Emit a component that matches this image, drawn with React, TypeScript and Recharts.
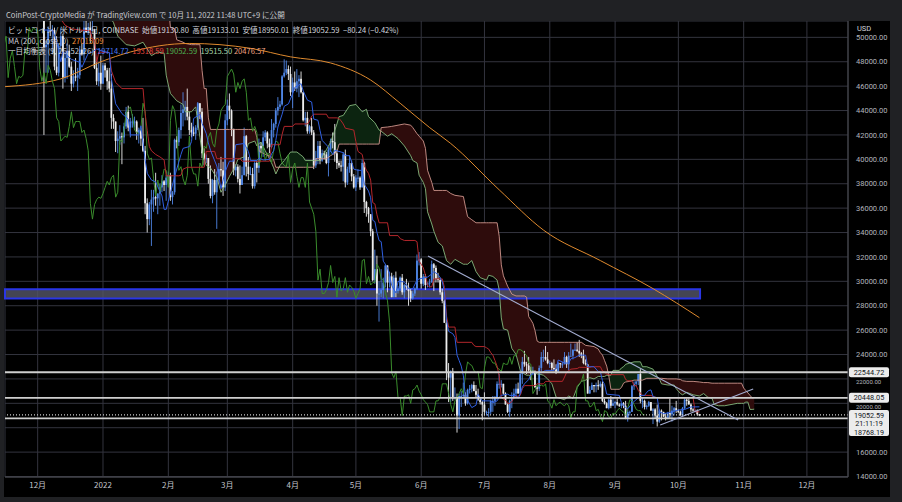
import {
  Area,
  Bar,
  CartesianGrid,
  ComposedChart,
  Line,
  ReferenceArea,
  ReferenceLine,
  XAxis,
  YAxis,
} from 'recharts'

// day index = days since 2021-11-01, prices in thousand USD (BTC/USD daily, Coinbase)
const FIRST_DAY = 33 // 2021-12-04
const FIRST_OPEN = 53.7

const closes = [
  // Dec
  49.2, 49.4, 50.6, 50.5, 50.6, 47.6, 47.1, 49.3, 50.1, 46.7, 48.3, 48.9, 47.6, 46.2, 46.8, 46.7, 46.9, 49.0, 48.6, 50.8, 50.4, 50.8, 50.6, 50.6, 47.5, 46.4, 47.1, 46.2,
  // Jan
  47.7, 47.3, 46.4, 45.8, 43.4, 43.1, 41.5, 41.7, 41.9, 41.8, 42.7, 43.9, 42.6, 43.1, 43.1, 43.1, 42.2, 42.4, 41.7, 40.7, 36.4, 35.1, 36.3, 36.7, 36.9, 36.8, 37.2, 37.7, 38.2, 37.9, 38.5,
  // Feb
  38.7, 36.9, 37.3, 41.6, 41.4, 42.4, 43.8, 44.1, 44.3, 43.5, 42.4, 42.2, 42.1, 42.6, 44.6, 43.9, 40.5, 40.0, 40.1, 38.4, 37.0, 38.3, 37.3, 38.3, 39.2, 39.1, 37.7, 43.2,
  // Mar
  44.4, 44.0, 42.5, 39.1, 39.4, 38.4, 37.9, 38.7, 41.9, 39.4, 38.8, 38.8, 37.8, 39.7, 39.3, 41.1, 40.9, 41.8, 42.2, 41.3, 41.0, 42.4, 42.9, 44.0, 44.3, 44.5, 46.8, 47.1, 47.4, 47.0, 45.5,
  // Apr
  46.3, 45.8, 46.4, 46.6, 45.5, 43.2, 43.4, 42.3, 42.7, 42.2, 39.5, 40.1, 41.1, 39.9, 40.5, 40.4, 39.7, 40.8, 41.5, 41.4, 40.5, 39.7, 39.5, 39.4, 40.4, 38.1, 39.2, 39.7, 38.6, 37.7,
  // May
  38.5, 38.5, 37.7, 39.7, 36.5, 36.0, 35.5, 34.1, 30.1, 31.0, 29.0, 29.0, 29.3, 29.9, 31.3, 29.9, 30.4, 28.7, 30.3, 29.2, 29.4, 30.3, 29.1, 29.7, 29.5, 29.2, 28.6, 29.0, 29.4, 31.7, 31.8,
  // Jun
  29.8, 30.4, 29.7, 29.9, 29.9, 31.4, 31.1, 30.2, 30.1, 29.1, 28.4, 26.6, 22.5, 22.1, 22.6, 20.4, 20.5, 19.0, 20.6, 20.6, 20.7, 20.0, 21.1, 21.2, 21.5, 21.0, 20.7, 20.3, 20.1, 19.9,
  // Jul
  19.3, 19.3, 19.3, 20.2, 20.2, 20.5, 21.6, 21.6, 21.6, 20.8, 19.9, 19.3, 20.2, 20.5, 20.8, 21.2, 20.8, 22.4, 23.4, 23.2, 23.1, 22.7, 22.5, 22.6, 21.3, 21.2, 22.9, 23.8, 23.8, 23.6, 23.3,
  // Aug
  23.3, 22.9, 22.8, 22.6, 23.3, 23.2, 23.2, 23.8, 23.2, 23.9, 23.9, 24.4, 24.4, 24.3, 24.1, 23.9, 23.3, 23.2, 20.8, 21.1, 21.5, 21.4, 21.5, 21.4, 21.6, 20.2, 20.0, 19.6, 20.3, 19.8, 20.0,
  // Sep
  20.1, 19.9, 19.8, 20.0, 19.8, 18.8, 19.3, 19.3, 21.4, 21.6, 21.8, 22.4, 20.2, 20.2, 19.7, 19.8, 20.1, 19.4, 19.5, 19.0, 18.5, 19.4, 19.3, 18.9, 18.8, 19.2, 19.1, 19.4, 19.6, 19.4,
  // Oct
  19.3, 19.0, 19.6, 20.3, 20.2, 19.9, 19.5, 19.4, 19.4, 19.1, 19.05,
]

const highs = [
  53.9, 49.7, 50.9, 51.9, 51.0, 50.8, 50.1, 49.5, 50.8, 50.3, 48.7, 49.5, 49.4, 48.0, 47.3, 48.3, 47.5, 49.3, 49.5, 51.4, 51.8, 51.2, 51.3, 52.0, 50.7, 48.1, 47.9, 48.5,
  47.9, 47.9, 47.5, 47.5, 47.0, 43.7, 43.1, 42.3, 42.8, 42.2, 43.0, 44.3, 44.4, 43.4, 43.7, 43.5, 43.2, 42.6, 42.6, 43.4, 41.1, 36.8, 36.5, 37.5, 37.5, 38.9, 37.2, 38.0, 38.7, 38.3, 38.7,
  39.0, 38.9, 37.4, 41.7, 41.9, 42.6, 44.5, 45.5, 44.8, 45.8, 43.9, 43.0, 42.7, 42.8, 44.7, 44.6, 44.2, 40.9, 40.4, 40.1, 39.5, 38.4, 39.2, 39.0, 39.7, 40.2, 39.8, 43.7,
  44.9, 45.4, 44.1, 42.5, 39.6, 39.6, 39.5, 39.4, 42.6, 42.0, 40.2, 39.4, 39.3, 39.9, 39.9, 41.7, 41.4, 42.3, 42.4, 42.3, 41.7, 43.3, 43.0, 44.2, 45.1, 44.8, 46.9, 48.2, 48.1, 47.7, 47.6,
  46.7, 47.2, 47.4, 46.9, 47.2, 45.5, 43.9, 43.9, 42.8, 43.4, 42.4, 40.7, 41.5, 41.5, 40.8, 40.7, 40.6, 41.0, 41.7, 42.2, 42.9, 40.8, 39.9, 39.9, 40.6, 40.8, 39.4, 40.3, 39.9, 38.8,
  38.7, 39.2, 38.6, 40.0, 39.8, 36.6, 36.1, 35.5, 34.3, 32.6, 32.1, 30.0, 31.0, 30.3, 31.4, 31.3, 30.8, 30.7, 30.5, 30.8, 29.6, 30.4, 30.6, 29.8, 30.2, 29.9, 29.4, 29.2, 29.5, 32.2, 32.4,
  31.9, 30.6, 30.6, 29.9, 30.2, 31.7, 31.5, 31.3, 30.7, 30.3, 29.4, 28.5, 26.9, 23.3, 22.7, 22.9, 21.3, 20.8, 20.8, 21.0, 21.7, 20.9, 21.2, 21.5, 21.6, 21.8, 21.5, 21.2, 20.4, 20.2,
  20.9, 19.4, 19.6, 20.3, 20.6, 20.6, 21.8, 22.4, 21.9, 21.6, 20.9, 20.0, 20.3, 20.9, 21.2, 21.6, 21.7, 22.7, 23.8, 24.3, 23.4, 23.8, 23.0, 23.0, 22.7, 21.4, 23.1, 24.2, 24.4, 24.7, 24.2,
  23.5, 23.4, 23.6, 23.2, 23.4, 23.3, 23.4, 24.2, 23.9, 24.2, 24.9, 24.4, 24.9, 25.0, 25.2, 24.2, 24.4, 23.6, 23.2, 21.4, 21.7, 21.5, 21.7, 21.9, 21.8, 21.8, 20.4, 20.1, 20.4, 20.6, 20.5,
  20.2, 20.4, 20.0, 20.0, 20.1, 20.2, 19.5, 19.4, 21.5, 21.8, 21.8, 22.4, 22.8, 20.5, 20.3, 19.9, 20.2, 20.1, 19.6, 19.6, 19.9, 19.5, 19.5, 19.3, 19.2, 19.3, 20.4, 19.8, 19.7, 20.2,
  19.5, 19.4, 19.7, 20.5, 20.4, 20.4, 20.0, 19.6, 19.5, 19.5, 19.13,
]

const lows = [
  42.0, 47.1, 47.1, 50.1, 48.6, 47.3, 46.9, 46.8, 48.7, 45.8, 46.3, 46.6, 47.5, 45.6, 45.9, 46.4, 45.6, 46.6, 48.5, 48.1, 50.4, 50.2, 49.5, 50.5, 47.4, 46.1, 46.0, 45.7,
  46.2, 46.7, 45.7, 45.5, 42.5, 42.5, 40.6, 40.5, 41.2, 39.6, 41.3, 42.5, 42.3, 41.8, 42.6, 42.6, 41.6, 41.3, 41.1, 40.6, 35.5, 34.0, 34.6, 32.9, 35.7, 36.2, 35.5, 36.2, 37.3, 37.4, 36.6,
  38.0, 36.6, 36.3, 37.1, 40.9, 41.1, 41.7, 42.7, 43.2, 43.2, 42.0, 41.8, 41.9, 41.6, 42.4, 43.3, 40.1, 39.5, 39.7, 38.0, 36.8, 36.4, 37.1, 34.3, 38.0, 38.6, 37.0, 37.4,
  42.8, 43.3, 41.9, 38.7, 38.6, 38.1, 37.2, 37.9, 38.7, 38.6, 38.3, 38.7, 37.6, 37.6, 38.1, 38.9, 40.5, 40.2, 41.5, 40.9, 40.5, 40.9, 41.8, 42.6, 43.6, 44.1, 44.4, 46.7, 46.9, 46.5, 45.2,
  44.2, 45.6, 45.5, 45.1, 45.4, 43.1, 42.7, 42.1, 42.1, 42.0, 39.2, 39.3, 39.6, 39.6, 39.8, 40.0, 39.6, 38.6, 40.6, 40.9, 39.8, 39.2, 39.3, 39.0, 38.2, 37.7, 37.9, 38.9, 38.2, 37.6,
  37.4, 38.1, 37.5, 37.7, 35.6, 35.3, 34.8, 33.7, 30.0, 29.8, 28.0, 26.7, 28.7, 28.6, 29.5, 29.1, 29.5, 28.7, 28.7, 28.7, 29.0, 29.2, 28.9, 28.6, 29.3, 28.0, 28.3, 28.5, 28.8, 29.3, 31.3,
  29.4, 29.6, 29.3, 29.5, 29.5, 29.9, 29.2, 29.9, 29.9, 28.9, 28.2, 26.6, 21.9, 20.1, 20.1, 20.2, 20.3, 17.6, 17.9, 19.7, 20.4, 19.8, 19.9, 20.8, 20.9, 21.0, 20.5, 20.2, 19.9, 18.6,
  19.0, 19.0, 18.9, 19.1, 19.3, 19.8, 20.3, 21.2, 21.3, 20.7, 19.9, 19.2, 18.9, 19.6, 20.4, 20.5, 20.8, 20.8, 21.6, 23.0, 22.4, 22.6, 21.9, 22.3, 21.3, 20.7, 21.0, 22.6, 23.4, 23.5, 23.2,
  22.9, 22.7, 22.7, 22.4, 22.6, 22.9, 22.9, 23.2, 22.9, 22.7, 23.9, 23.6, 24.3, 24.2, 23.8, 23.7, 23.2, 23.1, 20.8, 20.8, 21.1, 20.9, 20.9, 21.1, 21.3, 20.1, 19.9, 19.6, 19.5, 19.6, 19.8,
  19.6, 19.8, 19.7, 19.6, 19.6, 18.7, 18.5, 19.0, 19.3, 21.1, 21.4, 21.5, 20.0, 19.6, 19.5, 19.5, 19.7, 19.4, 18.3, 18.8, 18.1, 18.4, 18.6, 18.9, 18.6, 18.7, 18.8, 18.5, 19.0, 19.2,
  19.2, 19.0, 18.9, 19.5, 19.8, 19.9, 19.3, 19.3, 19.3, 19.0, 18.95,
]

// 一目均衡表: [day, value]
const tenkan: [number, number][] = [
  [33, 50.6], [37, 50.6], [39, 49.7], [41, 48.0], [42, 48.85], [46, 48.2], [50, 47.95], [51, 47.55], [54, 48.7], [56, 48.8], [58, 49.05],
  [61, 48.85], [64, 48.75], [65, 46.6], [67, 44.55], [70, 43.75], [73, 43.3], [74, 42.0], [78, 42.0], [79, 42.75], [81, 39.95], [82, 38.85],
  [84, 38.3], [86, 38.15], [89, 37.0], [90, 35.9], [91, 35.9], [93, 37.25], [95, 38.6], [98, 40.4], [99, 40.9], [102, 41.05], [103, 41.45],
  [104, 43.35], [107, 43.7], [108, 42.95], [110, 42.1], [111, 41.35], [112, 40.75], [115, 39.45], [117, 37.6], [119, 39.0], [121, 39.85],
  [123, 39.85], [124, 41.2], [128, 41.3], [130, 40.65], [131, 39.9], [134, 39.9], [135, 40.1], [137, 39.95], [140, 40.0], [141, 40.45],
  [142, 40.7], [143, 41.55], [144, 42.65], [146, 43.7], [147, 44.35], [149, 44.55], [151, 45.4], [152, 45.9], [155, 46.2], [156, 45.6],
  [158, 44.85], [160, 44.7], [161, 43.3], [163, 43.2], [164, 42.35], [165, 41.55], [168, 41.0], [170, 40.4], [171, 40.75], [175, 40.55],
  [176, 40.3], [178, 40.3], [180, 39.2], [182, 39.1], [184, 39.1], [185, 37.95], [187, 37.4], [188, 36.85], [189, 35.0], [190, 34.9],
  [191, 34.0], [192, 33.35], [193, 33.25], [194, 31.65], [195, 31.4], [196, 31.1], [197, 30.5], [198, 29.65], [200, 29.05], [201, 30.0],
  [204, 29.95], [205, 29.7], [206, 29.4], [208, 29.4], [210, 30.1], [211, 30.2], [215, 30.35], [217, 30.6], [218, 30.8], [220, 30.55],
  [221, 30.3], [222, 29.95], [223, 29.15], [224, 26.8], [225, 25.9], [227, 25.7], [228, 25.4], [229, 23.95], [230, 23.5], [231, 23.05],
  [232, 22.25], [233, 20.45], [234, 20.25], [236, 19.65], [238, 19.85], [239, 20.75], [241, 20.2], [245, 20.2], [246, 20.05], [248, 20.2],
  [249, 20.5], [250, 20.65], [253, 20.75], [254, 20.65], [257, 20.65], [258, 20.4], [259, 20.8], [260, 21.35], [261, 21.6], [263, 21.95],
  [264, 22.35], [266, 22.55], [269, 22.5], [271, 22.7], [275, 22.7], [276, 22.85], [277, 23.55], [280, 23.3], [282, 23.3], [283, 23.65],
  [285, 23.75], [286, 23.85], [287, 23.95], [290, 23.95], [291, 23.0], [294, 23.0], [296, 22.6], [297, 22.6], [298, 21.85], [299, 21.55],
  [300, 20.75], [303, 20.7], [306, 20.65], [307, 20.05], [309, 19.65], [310, 19.55], [312, 20.0], [313, 20.15], [315, 20.45], [316, 20.65],
  [318, 20.65], [319, 20.9], [320, 21.05], [321, 21.1], [322, 20.55], [324, 20.45], [325, 19.3], [327, 19.15], [330, 19.25], [333, 19.4],
  [334, 19.45], [337, 19.5], [340, 19.7], [344, 19.71],
]

const kijun: [number, number][] = [
  [33, 55.5], [35, 53.8], [37, 54.15], [39, 54.15], [40, 52.7], [41, 51.5], [43, 51.0], [46, 50.7], [50, 50.6], [55, 50.55], [56, 49.8],
  [57, 49.8], [58, 47.95], [59, 48.8], [64, 48.75], [65, 47.25], [67, 46.3], [70, 45.8], [80, 45.8], [81, 43.75], [82, 42.35], [83, 41.05],
  [84, 40.7], [86, 40.4], [88, 40.2], [90, 39.95], [91, 38.65], [97, 38.65], [98, 38.7], [99, 39.2], [101, 39.35], [109, 39.35], [110, 40.65],
  [114, 40.65], [115, 40.05], [126, 40.05], [127, 39.85], [140, 39.85], [141, 41.2], [145, 41.2], [146, 42.05], [147, 42.7], [151, 42.7],
  [152, 42.9], [158, 42.9], [159, 43.15], [160, 43.55], [161, 43.7], [167, 43.7], [168, 43.4], [172, 43.4], [173, 43.35], [174, 43.15],
  [175, 42.9], [176, 42.55], [180, 42.4], [181, 41.45], [182, 40.65], [184, 40.4], [185, 39.5], [186, 39.1], [187, 38.85], [188, 38.3],
  [189, 36.45], [190, 36.35], [191, 35.45], [192, 34.8], [196, 34.8], [197, 33.75], [201, 33.75], [202, 33.5], [204, 33.35], [209, 33.35],
  [210, 33.25], [211, 31.65], [212, 31.4], [213, 31.1], [214, 30.5], [215, 29.65], [216, 29.55], [217, 29.55], [218, 30.2], [222, 30.2],
  [223, 29.5], [224, 27.15], [225, 26.25], [228, 26.25], [229, 25.0], [236, 25.0], [237, 24.75], [238, 24.65], [242, 24.65], [243, 24.55],
  [244, 24.45], [245, 24.15], [246, 23.95], [247, 23.5], [248, 23.05], [249, 22.25], [250, 20.45], [252, 20.25], [253, 20.0], [254, 20.0],
  [255, 20.15], [256, 20.5], [259, 20.65], [260, 21.2], [261, 21.45], [266, 21.45], [267, 21.6], [270, 21.6], [271, 21.8], [279, 21.8],
  [280, 22.15], [281, 22.55], [283, 22.8], [286, 22.85], [287, 22.95], [292, 22.95], [293, 23.0], [297, 23.0], [298, 22.65], [299, 22.55],
  [300, 22.4], [301, 22.35], [308, 22.35], [309, 21.95], [310, 21.85], [312, 21.85], [313, 21.45], [314, 21.45], [315, 21.05], [316, 20.85],
  [317, 20.65], [321, 20.65], [322, 20.55], [324, 20.45], [341, 20.45], [342, 19.3], [344, 19.3],
]

// [day, 先行スパン1, 先行スパン2]
const cloud: [number, number, number][] = [
  [14, 57.2, 53.3], [26, 60.6, 53.3], [36, 63.0, 54.3], [46, 62.1, 56.0], [56, 58.9, 61.1], [59, 58.7, 55.5], [60, 53.0, 55.5],
  [66, 51.2, 55.5], [68, 50.1, 55.5], [72, 49.4, 55.5], [76, 49.3, 55.5], [80, 49.6, 55.5], [84, 48.5, 55.5], [86, 48.7, 55.5],
  [87, 48.8, 54.2], [90, 48.7, 54.2], [91, 46.9, 54.2], [92, 46.1, 52.7], [93, 45.4, 50.8], [95, 45.0, 50.7], [96, 44.8, 49.8],
  [99, 44.5, 49.6], [100, 43.9, 49.5], [103, 43.9, 49.4], [105, 44.3, 49.4], [107, 41.8, 49.4], [108, 40.6, 47.3], [109, 40.0, 45.8],
  [110, 39.5, 45.8], [111, 39.4, 43.4], [112, 39.3, 42.45], [115, 38.5, 42.45], [117, 37.3, 42.45], [119, 37.9, 42.45], [121, 38.6, 42.45],
  [124, 39.5, 42.45], [125, 40.0, 42.45], [128, 40.2, 42.45], [130, 41.3, 42.45], [133, 41.5, 42.45], [134, 41.1, 41.8], [135, 41.3, 40.7],
  [136, 41.4, 40.6], [138, 40.7, 40.4], [141, 39.7, 40.2], [142, 39.3, 39.95], [143, 38.8, 39.35], [145, 39.5, 39.35], [147, 39.9, 39.35],
  [150, 40.6, 39.35], [153, 40.6, 39.35], [156, 40.2, 39.35], [157, 39.9, 39.35], [161, 39.9, 39.35], [162, 39.9, 40.05], [164, 39.9, 40.05],
  [167, 40.8, 40.05], [169, 41.4, 40.3], [170, 41.9, 40.4], [172, 42.9, 40.6], [173, 43.5, 41.25], [175, 43.6, 41.25], [178, 44.4, 41.25],
  [181, 44.5, 41.25], [184, 43.9, 41.25], [186, 44.1, 41.25], [187, 43.5, 41.25], [190, 43.0, 41.25], [192, 42.4, 41.25], [193, 42.3, 42.6],
  [196, 41.9, 42.65], [198, 42.1, 42.7], [201, 41.7, 42.8], [204, 41.1, 42.9], [207, 40.3, 42.8], [208, 39.9, 42.6], [210, 39.7, 42.1],
  [211, 38.7, 41.9], [213, 38.1, 41.5], [214, 37.6, 40.9], [215, 35.7, 39.1], [217, 34.7, 38.1], [218, 34.1, 37.45], [220, 33.2, 37.45],
  [222, 32.9, 37.45], [224, 31.7, 37.45], [226, 31.4, 37.2], [228, 31.8, 37.05], [230, 31.6, 37.0], [232, 31.4, 36.95], [233, 31.4, 36.1],
  [234, 31.4, 35.3], [236, 31.7, 35.05], [238, 30.8, 34.8], [240, 30.3, 34.8], [243, 30.1, 34.8], [244, 30.5, 34.8], [246, 30.4, 34.8],
  [248, 30.1, 34.8], [249, 29.3, 33.7], [250, 27.0, 31.35], [251, 26.1, 30.45], [253, 26.0, 29.6], [255, 24.5, 28.95], [257, 24.0, 28.8],
  [259, 22.7, 28.8], [261, 22.4, 28.8], [262, 22.3, 28.7], [263, 22.3, 27.1], [264, 22.2, 26.85], [265, 22.7, 26.55], [266, 22.5, 25.95],
  [267, 22.4, 25.1], [268, 22.4, 25.0], [270, 22.3, 25.0], [272, 22.0, 25.0], [274, 21.6, 25.0], [276, 20.5, 25.0], [280, 20.3, 25.0],
  [282, 20.6, 25.0], [284, 20.4, 25.0], [286, 21.3, 25.0], [288, 21.8, 25.0], [290, 21.9, 24.75], [292, 22.1, 24.7], [294, 22.0, 24.65],
  [296, 22.2, 24.45], [297, 22.2, 24.15], [298, 22.2, 23.95], [299, 22.2, 23.5], [300, 22.3, 23.05], [301, 22.3, 22.25], [302, 22.3, 21.15],
  [303, 22.7, 21.15], [306, 22.7, 21.15], [307, 22.9, 21.3], [308, 23.0, 21.65], [309, 23.2, 21.75], [311, 23.3, 21.8], [313, 23.4, 21.9],
  [316, 23.4, 21.9], [317, 23.0, 21.9], [319, 23.0, 22.05], [322, 22.8, 22.05], [324, 22.2, 22.05], [325, 22.0, 22.05], [326, 21.6, 22.05],
  [329, 21.5, 22.0], [332, 21.5, 22.0], [333, 21.2, 22.0], [335, 20.8, 21.95], [336, 20.7, 21.85], [338, 20.9, 21.8], [341, 20.7, 21.8],
  [344, 20.6, 21.75], [346, 20.8, 21.7], [348, 20.5, 21.7], [350, 20.4, 21.65], [351, 19.9, 21.65], [353, 19.8, 21.65], [356, 19.8, 21.65],
  [359, 19.9, 21.65], [362, 20.0, 21.65], [364, 20.0, 21.65], [365, 20.0, 21.25], [366, 20.1, 21.05], [367, 20.1, 20.85], [368, 19.5, 20.65],
  [369, 19.5, 20.45], [370, 19.52, 20.48],
]

const ma200: [number, number][] = [
  [14, 45.95], [41, 46.6], [60, 48.0], [74, 48.8], [102, 49.5], [131, 49.1], [150, 48.4], [169, 47.9], [188, 46.5], [202, 44.6],
  [216, 42.6], [226, 41.3], [249, 37.5], [270, 34.2], [297, 31.7], [322, 29.4], [344, 27.02],
]

const CHIKOU_SHIFT = 26
const X_DOMAIN: [number, number] = [14.5, 414.5]
const Y_DOMAIN: [number, number] = [13.96, 51.34]

const monthTicks = [30, 61, 92, 120, 151, 181, 212, 242, 273, 304, 334, 365, 395]
const monthLabels = ['12月', '2022', '2月', '3月', '4月', '5月', '6月', '7月', '8月', '9月', '10月', '11月', '12月']
const priceTicks = [14, 16, 18, 20, 22, 24, 26, 28, 30, 32, 34, 36, 38, 40, 42, 44, 46, 48, 50]
const hiddenTicks = [18] // covered by the last-price tag
const squeezedTicks = [20, 22] // peek out below the price tags

// drawings
const resistance = 22.54472
const pivot = 20.44805
const lastPrice = 19.05259
const support = 18.76819
const band: [number, number, number] = [344.3, 28.6, 29.35] // end day, low, high
const downTrend: [number, number][] = [[215.2, 32.07], [362.4, 18.63]]
const upTrend: [number, number][] = [[325.4, 18.22], [369.5, 21.17]]

const UP = '#4f86e6'
const DOWN = '#ededed'

type Row = {
  d: number
  o?: number
  h?: number
  l?: number
  c?: number
  ten?: number
  kij?: number
  chi?: number
  sa?: number
  sb?: number
  ma?: number
}

const rowMap = new Map<number, Row>()
const at = (d: number) => {
  let r = rowMap.get(d)
  if (!r) {
    r = { d }
    rowMap.set(d, r)
  }
  return r
}
closes.forEach((c, i) => {
  const r = at(FIRST_DAY + i)
  r.o = i === 0 ? FIRST_OPEN : closes[i - 1]
  r.c = c
  r.h = highs[i]
  r.l = lows[i]
  at(FIRST_DAY + i - CHIKOU_SHIFT).chi = c
})
tenkan.forEach(([d, v]) => (at(d).ten = v))
kijun.forEach(([d, v]) => (at(d).kij = v))
cloud.forEach(([d, a, b]) => {
  const r = at(d)
  r.sa = a
  r.sb = b
})
ma200.forEach(([d, v]) => (at(d).ma = v))
const rows = [...rowMap.values()].sort((a, b) => a.d - b.d)

function Candle(props: any) {
  const { x, y, width, height, payload } = props
  if (!payload || payload.h == null || payload.h === payload.l) return <g />
  const top = Math.min(y, y + height)
  const span = Math.abs(height)
  const k = span / (payload.h - payload.l)
  const py = (v: number) => top + (payload.h - v) * k
  const color = payload.c >= payload.o ? UP : DOWN
  const cx = x + width / 2
  const b1 = py(Math.max(payload.o, payload.c))
  const b2 = py(Math.min(payload.o, payload.c))
  return (
    <g>
      <line x1={cx} x2={cx} y1={top} y2={top + span} stroke={color} strokeWidth={0.9} />
      <rect x={cx - 0.9} y={b1} width={1.8} height={Math.max(1, b2 - b1)} fill={color} />
    </g>
  )
}

const fmtPrice = (v: number) => (v * 1000).toFixed(2)

function PriceTick(props: any) {
  const { x, y, payload } = props
  const v = payload.value
  if (hiddenTicks.includes(v)) return <g />
  const squeezed = squeezedTicks.includes(v)
  return (
    <text
      x={x}
      y={y + (squeezed ? 3.2 : 0)}
      dy="0.355em"
      textAnchor="start"
      fontSize={squeezed ? 6 : 7.5}
      fill="#b2b5be"
      fontFamily="Roboto, sans-serif"
    >
      {fmtPrice(v)}
    </text>
  )
}

function tag(value: number) {
  return (p: any) => {
    const vb = p.viewBox
    const x = vb.x + vb.width + 1
    return (
      <g>
        <rect x={x} y={vb.y - 5} width={40} height={10} rx={2} fill="#ececec" />
        <text x={x + 20} y={vb.y + 2.6} textAnchor="middle" fontSize={7.3} fill="#131722" fontFamily="Roboto, sans-serif">
          {fmtPrice(value)}
        </text>
      </g>
    )
  }
}

function lastTag(p: any) {
  const vb = p.viewBox
  const x = vb.x + vb.width + 1
  const lines = [fmtPrice(lastPrice), '21:11:19', fmtPrice(support)]
  return (
    <g>
      <rect x={x} y={vb.y - 5} width={40} height={26} rx={2} fill="#ececec" />
      {lines.map((t, i) => (
        <text key={t} x={x + 20} y={vb.y + 3 + i * 8.6} textAnchor="middle" fontSize={7.2} fill="#131722" fontFamily="Roboto, sans-serif">
          {t}
        </text>
      ))}
    </g>
  )
}

const headerFont = '"Noto Sans CJK JP", Roboto, sans-serif'

export default function App() {
  return (
    <div style={{ position: 'absolute', left: 0, top: 0, width: 902, height: 502, background: '#202124', overflow: 'hidden' }}>
      <div style={{ position: 'absolute', left: 6, top: 9, fontFamily: headerFont, fontSize: 7.6, color: '#c9cacf', whiteSpace: 'pre' }}>
        CoinPost-CryptoMedia が TradingView.com で 10月 11, 2022 11:48 UTC+9 に公開
      </div>
      <div style={{ position: 'absolute', left: 4, top: 21, width: 886, height: 476, background: '#000' }}>
        <ComposedChart width={886} height={476} data={rows} margin={{ top: 0, right: 0, bottom: 0, left: 1 }}>
          <CartesianGrid stroke="#33343e" />
          <XAxis
            type="number"
            dataKey="d"
            domain={X_DOMAIN}
            allowDataOverflow
            ticks={monthTicks}
            interval={0}
            tickFormatter={(v: number) => monthLabels[monthTicks.indexOf(v)] ?? ''}
            tick={{ fill: '#c3c5cc', fontSize: 8, fontFamily: headerFont }}
            tickLine={false}
            tickSize={3}
            axisLine={{ stroke: '#4a4b50' }}
            height={20}
          />
          <YAxis
            orientation="right"
            domain={Y_DOMAIN}
            allowDataOverflow
            ticks={priceTicks}
            interval={0}
            tick={PriceTick}
            tickLine={false}
            axisLine={{ stroke: '#4a4b50' }}
            width={42}
          />
          <Area
            dataKey={(r: Row) => (r.sa != null && r.sb != null ? [r.sa, Math.max(r.sa, r.sb)] : null)}
            type="linear"
            stroke="none"
            fill="#2e0c0c"
            fillOpacity={1}
            connectNulls
            isAnimationActive={false}
          />
          <Area
            dataKey={(r: Row) => (r.sa != null && r.sb != null ? [r.sb, Math.max(r.sa, r.sb)] : null)}
            type="linear"
            stroke="none"
            fill="#0c2410"
            fillOpacity={1}
            connectNulls
            isAnimationActive={false}
          />
          <Line dataKey="sa" stroke="#86b97e" strokeWidth={0.9} dot={false} connectNulls isAnimationActive={false} />
          <Line dataKey="sb" stroke="#cf958c" strokeWidth={0.9} dot={false} connectNulls isAnimationActive={false} />
          <Line dataKey="ma" type="monotone" stroke="#df8a2e" strokeWidth={1} dot={false} connectNulls isAnimationActive={false} />
          <Line dataKey="chi" stroke="#3a8c2c" strokeWidth={1} dot={false} connectNulls isAnimationActive={false} />
          <Line dataKey="kij" stroke="#b3262b" strokeWidth={1} dot={false} connectNulls isAnimationActive={false} />
          <Bar
            dataKey={(r: Row) => (r.h != null ? [r.l, r.h] : null)}
            barSize={2}
            shape={Candle}
            isAnimationActive={false}
          />
          <Line dataKey="ten" stroke="#2f5fe0" strokeWidth={1} dot={false} connectNulls isAnimationActive={false} />
          <ReferenceArea
            x1={X_DOMAIN[0]}
            x2={band[0]}
            y1={band[1]}
            y2={band[2]}
            fill="#555668"
            fillOpacity={0.8}
            stroke="#2a36e6"
            strokeWidth={2}
          />
          <ReferenceLine y={resistance} stroke="#cfcfcf" strokeWidth={1.8} label={tag(resistance)} />
          <ReferenceLine y={pivot} stroke="#cfcfcf" strokeWidth={1.8} label={tag(pivot)} />
          <ReferenceLine y={support} stroke="#cfcfcf" strokeWidth={1.8} />
          <ReferenceLine y={lastPrice} stroke="#cfcfcf" strokeWidth={1.2} strokeDasharray="1 2" label={lastTag} />
          <ReferenceLine segment={downTrend.map(([x, y]) => ({ x, y }))} stroke="#a3acd0" strokeWidth={1.2} />
          <ReferenceLine segment={upTrend.map(([x, y]) => ({ x, y }))} stroke="#a3acd0" strokeWidth={1.2} />
        </ComposedChart>
        <div style={{ position: 'absolute', left: 853, top: 3, fontFamily: 'Roboto, sans-serif', fontSize: 7.5, color: '#d1d4dc' }}>USD</div>
      </div>
      <div style={{ position: 'absolute', left: 8, top: 25, fontFamily: headerFont, fontSize: 7.6, lineHeight: '10.5px', color: '#d1d4dc', whiteSpace: 'pre' }}>
        <div>ビットコイン / 米ドル, 1日, COINBASE  始値19130.80  高値19133.01  安値18950.01  終値19052.59  −80.24 (−0.42%)</div>
        <div>
          MA (200, close, 0)  <span style={{ color: '#f0923a' }}>27015.09</span>
        </div>
        <div>
          一目均衡表 (9, 26, 52, 26)  <span style={{ color: '#4a78f0' }}>19714.72</span>  <span style={{ color: '#e0453f' }}>19318.59</span>{' '}
          <span style={{ color: '#4caf50' }}>19052.59</span>  <span style={{ color: '#a5d6a7' }}>19515.50</span>{' '}
          <span style={{ color: '#f0a080' }}>20476.57</span>
        </div>
      </div>
    </div>
  )
}
